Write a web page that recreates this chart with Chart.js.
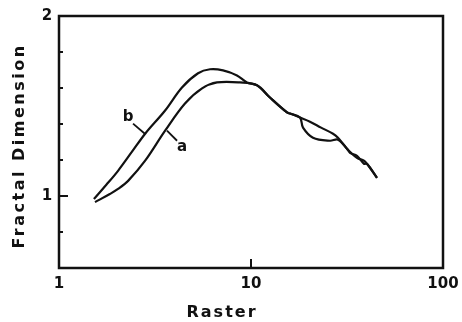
<!DOCTYPE html>
<html>
<head>
<meta charset="utf-8">
<script src="https://cdn.jsdelivr.net/npm/chart.js@4/dist/chart.umd.min.js"></script>
<style>
  html, body { margin: 0; padding: 0; background: #fff; }
  #wrap { width: 462px; height: 322px; }
</style>
</head>
<body>
<div id="wrap"><canvas id="c" width="462" height="322"></canvas></div>
<script>
// ---- data ----
const curveBX = [1.52, 1.76, 2.03, 2.40, 2.81, 3.57, 4.37, 5.30, 6.12, 7.15, 8.45, 9.53, 10.75, 12.55, 15.4, 15.97, 17.99, 20.28, 23.17, 26.74, 28.38, 31.62, 35.65, 38.77, 40.18, 45.3];
const curveBY = [0.983, 1.061, 1.140, 1.246, 1.346, 1.475, 1.603, 1.682, 1.704, 1.698, 1.670, 1.631, 1.615, 1.547, 1.464, 1.458, 1.436, 1.413, 1.380, 1.346, 1.324, 1.263, 1.212, 1.196, 1.179, 1.101];
const curveAX = [1.54, 1.84, 2.03, 2.29, 2.81, 3.57, 4.53, 5.56, 6.65, 8.76, 10.75, 12.55, 15.4, 15.97, 17.99, 18.66, 21.03, 25.78, 28.38, 31.62, 32.78, 35.65, 38.77, 40.18, 45.3];
const curveAY = [0.966, 1.011, 1.039, 1.084, 1.196, 1.363, 1.514, 1.598, 1.631, 1.631, 1.615, 1.547, 1.464, 1.458, 1.436, 1.380, 1.324, 1.307, 1.313, 1.263, 1.240, 1.223, 1.179, 1.179, 1.101];
const xTickValues = [1, 10, 100];
const xTickLabels = ["1", "10", "100"];
const yTickValues = [1, 2];
const yTickLabels = ["1", "2"];
const yMinorTicks = [0.8, 1.2, 1.4, 1.6, 1.8];
const xTitle = "Raster";
const yTitle = "Fractal Dimension";
// curve labels: [text, labelX, labelY, leaderFromX, leaderFromY, leaderToX, leaderToY]
const curveLabels = [
  ["b", 2.29, 1.436, 2.43, 1.402, 2.80, 1.346],
  ["a", 4.37, 1.274, 3.65, 1.363, 4.12, 1.307]
];

const toPts = (xs, ys) => xs.map((x, i) => ({x: x, y: ys[i]}));

const decor = {
  id: 'decor',
  afterDraw(chart) {
    const ctx = chart.ctx;
    const xs = chart.scales.x, ys = chart.scales.y;
    const a = chart.chartArea;
    ctx.save();
    ctx.strokeStyle = '#111';
    ctx.fillStyle = '#111';
    ctx.lineWidth = 2.5;
    ctx.strokeRect(a.left, a.top, a.right - a.left, a.bottom - a.top);
    // inward ticks
    ctx.lineWidth = 2;
    ctx.beginPath();
    yMinorTicks.forEach(v => {
      const py = ys.getPixelForValue(v);
      ctx.moveTo(a.left, py); ctx.lineTo(a.left + 4, py);
    });
    const p1 = ys.getPixelForValue(1);
    ctx.moveTo(a.left, p1); ctx.lineTo(a.left + 9, p1);
    const p10 = xs.getPixelForValue(10);
    ctx.moveTo(p10, a.bottom); ctx.lineTo(p10, a.bottom - 9);
    ctx.stroke();
    // tick labels
    ctx.font = 'bold 15px "DejaVu Sans"';
    ctx.textAlign = 'center';
    ctx.textBaseline = 'middle';
    xTickValues.forEach((v, i) => {
      ctx.fillText(xTickLabels[i], xs.getPixelForValue(v), a.bottom + 16);
    });
    yTickValues.forEach((v, i) => {
      ctx.fillText(yTickLabels[i], a.left - 12, ys.getPixelForValue(v));
    });
    // axis titles
    ctx.font = 'bold 16px "DejaVu Sans"';
    ctx.letterSpacing = '2px';
    ctx.fillText(xTitle, 222, 313);
    ctx.save();
    ctx.translate(20, 146);
    ctx.rotate(-Math.PI / 2);
    ctx.letterSpacing = '2.5px';
    ctx.fillText(yTitle, 0, 0);
    ctx.restore();
    ctx.letterSpacing = '0px';
    // curve labels
    ctx.font = 'bold 15px "DejaVu Sans"';
    ctx.lineWidth = 1.8;
    curveLabels.forEach(l => {
      ctx.fillText(l[0], xs.getPixelForValue(l[1]), ys.getPixelForValue(l[2]));
      ctx.beginPath();
      ctx.moveTo(xs.getPixelForValue(l[3]), ys.getPixelForValue(l[4]));
      ctx.lineTo(xs.getPixelForValue(l[5]), ys.getPixelForValue(l[6]));
      ctx.stroke();
    });
    ctx.restore();
  }
};

new Chart(document.getElementById('c'), {
  type: 'line',
  data: {
    datasets: [
      { label: 'b', data: toPts(curveBX, curveBY), borderColor: '#111', borderWidth: 2.2, pointRadius: 0, tension: 0.35, fill: false },
      { label: 'a', data: toPts(curveAX, curveAY), borderColor: '#111', borderWidth: 2.2, pointRadius: 0, tension: 0.35, fill: false }
    ]
  },
  options: {
    responsive: false,
    animation: false,
    layout: { padding: { left: 59, right: 19, top: 16, bottom: 54 } },
    plugins: { legend: { display: false }, tooltip: { enabled: false } },
    scales: {
      x: { type: 'logarithmic', min: 1, max: 100, display: false, grid: { display: false } },
      y: { type: 'linear', min: 0.6, max: 2, display: false, grid: { display: false } }
    }
  },
  plugins: [decor]
});
</script>
</body>
</html>
